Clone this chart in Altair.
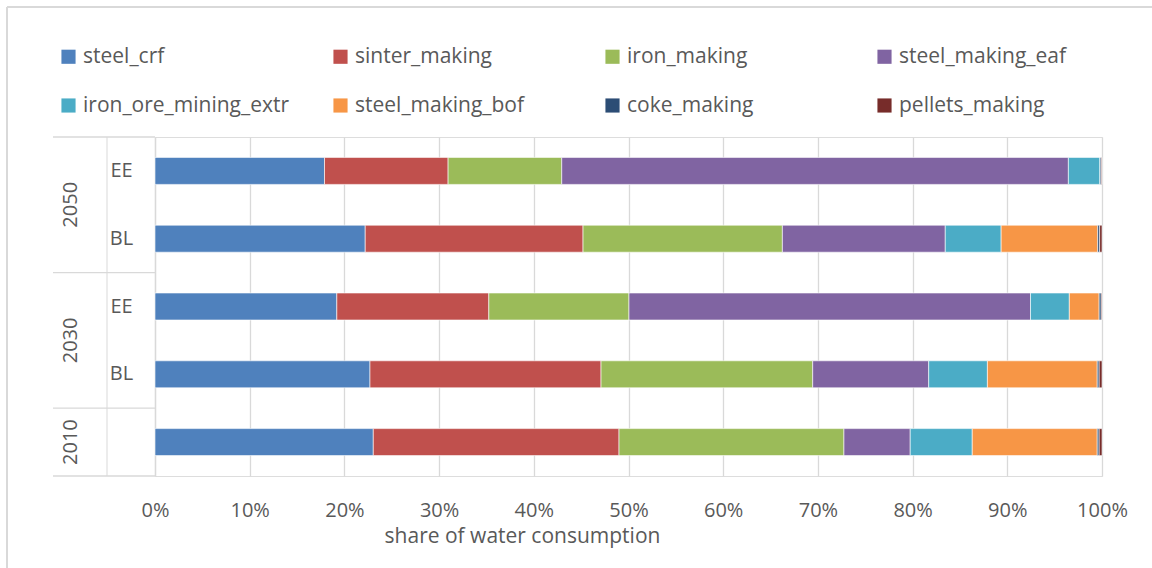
import altair as alt
import pandas as pd

# ---- data ----
rows = ["2050|EE", "2050|BL", "2030|EE", "2030|BL", "2010|"]
series = ["steel_crf", "sinter_making", "iron_making", "steel_making_eaf",
          "iron_ore_mining_extr", "steel_making_bof", "coke_making", "pellets_making"]
colors = ["#4F81BD", "#C0504D", "#9BBB59", "#8064A2",
          "#4BACC6", "#F79646", "#2C4D75", "#772C2A"]

# shares (%) per row, in series order
v_2050_EE = [17.9, 13.05, 12.0, 53.5, 3.35, 0.0, 0.13, 0.07]
v_2050_BL = [22.2, 23.0, 21.05, 17.2, 5.9, 10.2, 0.2, 0.25]
v_2030_EE = [19.2, 16.05, 14.8, 42.4, 4.1, 3.15, 0.22, 0.08]
v_2030_BL = [22.7, 24.4, 22.35, 12.25, 6.2, 11.6, 0.2, 0.3]
v_2010 = [23.05, 25.95, 23.75, 7.0, 6.55, 13.2, 0.2, 0.3]

years = ["2050", "2030", "2010"]
year_anchor_rows = ["2050|BL", "2030|BL"]   # labels sit on the boundary above these rows
x_ticks = [0, 0.1, 0.2, 0.3, 0.4, 0.5, 0.6, 0.7, 0.8, 0.9, 1.0]

all_vals = [v_2050_EE, v_2050_BL, v_2030_EE, v_2030_BL, v_2010]
records = []
for r, vals in zip(rows, all_vals):
    for i, (s, v) in enumerate(zip(series, vals)):
        records.append({"row": r, "series": s, "idx": i, "value": v})
df = pd.DataFrame(records)

FONT = "Open Sans"
GREY = "#595959"
LINE = "#D9D9D9"
W, H = 947, 339

yscale = alt.Scale(domain=rows, paddingInner=0, paddingOuter=0)

bars = alt.Chart(df).mark_bar(size=27, stroke="white", strokeWidth=0.6).encode(
    x=alt.X("value:Q", stack="normalize",
            scale=alt.Scale(domain=[0, 1], nice=False),
            axis=alt.Axis(format="%", values=x_ticks, title="share of water consumption",
                          grid=True, gridColor=LINE, gridWidth=1.3, domain=False, ticks=False,
                          labelFont=FONT, labelFontSize=20, labelColor=GREY, labelPadding=24,
                          titleFont=FONT, titleFontSize=21, titleFontWeight="normal",
                          titleColor=GREY, titleX=367, titleY=60, titleBaseline="middle",
                          titleAlign="center", labelFlush=False)),
    y=alt.Y("row:N", scale=yscale, sort=rows,
            axis=alt.Axis(title=None, labelExpr="split(datum.label, '|')[1]",
                          ticks=False, domain=True, domainColor=LINE, domainWidth=1.3,
                          labelFont=FONT, labelFontSize=20, labelColor=GREY,
                          labelPadding=34, labelAlign="center", labelOffset=0)),
    color=alt.Color("series:N", scale=alt.Scale(domain=series, range=colors),
                    legend=alt.Legend(title=None, orient="none", legendX=-97, legendY=-91,
                                      direction="horizontal",
                                      columns=4, symbolType="square", symbolSize=200,
                                      symbolStrokeWidth=0, labelFont=FONT, labelFontSize=21,
                                      labelColor=GREY, labelOffset=4, gridAlign="all",
                                      columnPadding=40, rowPadding=27, labelLimit=400)),
    order=alt.Order("idx:Q"),
)

# year labels (between the two scenario rows of a year)
yl_top = pd.DataFrame({"row": year_anchor_rows, "year": years[:2]})
yl_bot = pd.DataFrame({"row": ["2010|"], "year": [years[2]]})
year_top = alt.Chart(yl_top).mark_text(angle=270, font=FONT, fontSize=20, color=GREY).encode(
    y=alt.Y("row:N", scale=yscale, sort=rows, bandPosition=0),
    x=alt.value(-84), text="year:N")
year_bot = alt.Chart(yl_bot).mark_text(angle=270, font=FONT, fontSize=20, color=GREY).encode(
    y=alt.Y("row:N", scale=yscale, sort=rows, bandPosition=0.5),
    x=alt.value(-84), text="year:N")

# category separator lines
sep_top = alt.Chart(pd.DataFrame({"row": ["2050|EE", "2030|EE", "2010|"]})).mark_rule(
    color=LINE, strokeWidth=1.3).encode(
    y=alt.Y("row:N", scale=yscale, sort=rows, bandPosition=0),
    x=alt.value(-102), x2=alt.value(0))
sep_bot = alt.Chart(pd.DataFrame({"row": ["2010|"]})).mark_rule(
    color=LINE, strokeWidth=1.3).encode(
    y=alt.Y("row:N", scale=yscale, sort=rows, bandPosition=1),
    x=alt.value(-102), x2=alt.value(0))
vsep = alt.Chart(pd.DataFrame({"a": [0]})).mark_rule(color=LINE, strokeWidth=1.0).encode(
    x=alt.value(-48), y=alt.value(0), y2=alt.value(H))

# chart-area border (top and left edges visible)
border_top = alt.Chart(pd.DataFrame({"a": [0]})).mark_rule(color=LINE, strokeWidth=2).encode(
    x=alt.value(-148), x2=alt.value(W + 60), y=alt.value(-130))
border_left = alt.Chart(pd.DataFrame({"a": [0]})).mark_rule(color=LINE, strokeWidth=2).encode(
    x=alt.value(-148), y=alt.value(-130), y2=alt.value(H + 100))

chart = alt.layer(bars, year_top, year_bot, sep_top, sep_bot, vsep, border_top, border_left).properties(
    width=W, height=H,
    autosize=alt.AutoSizeParams(type="none"),
    padding={"left": 155, "top": 137, "right": 50, "bottom": 92},
).configure_view(stroke=None).configure(background="white")

chart.save("out.html", embed_options={"renderer": "svg", "actions": False})
